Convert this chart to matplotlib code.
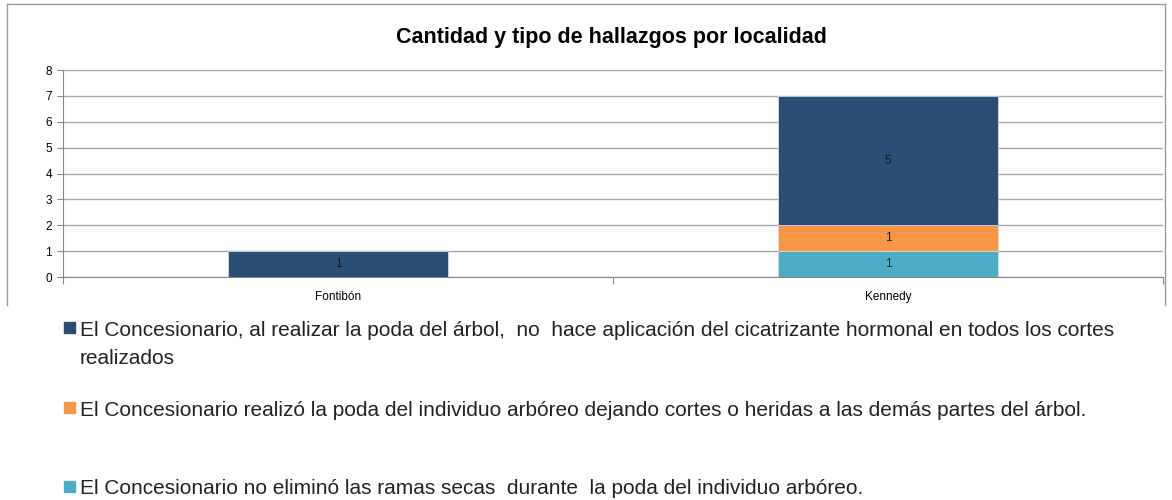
import numpy as np
import matplotlib.pyplot as plt
from matplotlib.patches import Rectangle

# datos del grafico
localidades = ["Fontibón", "Kennedy"]
sin_cicatrizante = [1, 5]
cortes_heridas = [0, 1]
ramas_secas = [0, 1]

# cada etiqueta de la leyenda como lista de lineas
etiquetas = [
    ["El Concesionario, al realizar la poda del árbol,  no  hace aplicación del cicatrizante hormonal en todos los cortes",
     "realizados"],
    ["El Concesionario realizó la poda del individuo arbóreo dejando cortes o heridas a las demás partes del árbol."],
    ["El Concesionario no eliminó las ramas secas  durante  la poda del individuo arbóreo."],
]
colores = ["#2C4D75", "#F79646", "#4BACC6"]

plt.rcParams['font.family'] = ['Liberation Sans', 'DejaVu Sans']

fig = plt.figure(figsize=(11.72, 5), dpi=100)
W, H = 1172, 500
ax = fig.add_axes([63 / W, 1 - 277 / H, 1100 / W, 207 / H])

x = np.arange(len(localidades))
ancho = 0.4
b3 = np.array(ramas_secas)
b2 = b3 + np.array(cortes_heridas)

series = [(ramas_secas, 0, colores[2]),
          (cortes_heridas, b3, colores[1]),
          (sin_cicatrizante, b2, colores[0])]
for vals, base, col in series:
    barras = ax.bar(x, vals, ancho, bottom=base, color=col, edgecolor='#DDE3EA', linewidth=0.5, zorder=3)
    for r, v in zip(barras, vals):
        if v > 0:
            ax.text(r.get_x() + r.get_width() / 2, r.get_y() + r.get_height() / 2, str(v),
                    ha='center', va='center', fontsize=8.5, color='#1a1a1a', zorder=4)

ax.set_xlim(-0.5, 1.5)
ax.set_ylim(0, 8)
ax.set_yticks(range(0, 9))
ax.tick_params(axis='y', labelsize=8.5, length=4, color='#888888', pad=4)
ax.set_xticks([-0.5, 0.5, 1.5], minor=False)
ax.set_xticklabels([])
ax.set_xticks(x, minor=True)
ax.set_xticklabels(localidades, minor=True)
ax.tick_params(axis='x', which='major', length=5, color='#888888')
ax.tick_params(axis='x', which='minor', length=0, labelsize=8.5, pad=10)
ax.grid(axis='y', color='#A6A6A6', linewidth=1, zorder=0)
for s in ['top', 'right']:
    ax.spines[s].set_visible(False)
for s in ['left', 'bottom']:
    ax.spines[s].set_color('#888888')

fig.text(611 / W, 1 - 38 / H, "Cantidad y tipo de hallazgos por localidad",
         ha='center', va='center', fontsize=15.5, fontweight='bold')

# borde del area del grafico
fig.add_artist(plt.Line2D([7 / W, 7 / W], [1 - 305 / H, 1 - 4 / H], color='#999999', lw=1, transform=fig.transFigure))
fig.add_artist(plt.Line2D([7 / W, 1165 / W], [1 - 4 / H, 1 - 4 / H], color='#999999', lw=1, transform=fig.transFigure))
fig.add_artist(plt.Line2D([1165 / W, 1165 / W], [1 - 305 / H, 1 - 4 / H], color='#999999', lw=1, transform=fig.transFigure))

# leyenda manual
ys = [328, 408, 487]
for y, lineas, col in zip(ys, etiquetas, colores):
    fig.patches.append(Rectangle((64 / W, 1 - (y + 5) / H), 11 / W, 11 / H,
                                 transform=fig.transFigure, color=col, figure=fig))
    for i, linea in enumerate(lineas):
        fig.text(80 / W, 1 - (y + 29 * i) / H, linea, ha='left', va='center_baseline',
                 fontsize=15, color='#222222')

fig.savefig("out.png", dpi=100)
